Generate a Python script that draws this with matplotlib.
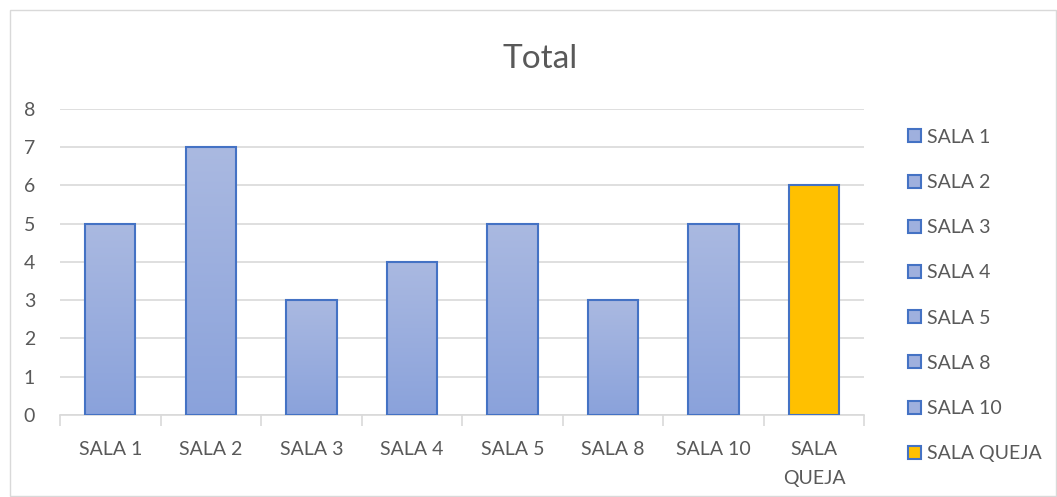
import matplotlib.pyplot as plt
import numpy as np
from matplotlib.patches import Rectangle
from matplotlib.colors import LinearSegmentedColormap

salas = ['SALA 1', 'SALA 2', 'SALA 3', 'SALA 4', 'SALA 5', 'SALA 8', 'SALA 10', 'SALA QUEJA']
tick_labels = ['SALA 1', 'SALA 2', 'SALA 3', 'SALA 4', 'SALA 5', 'SALA 8', 'SALA 10', 'SALA\nQUEJA']
totales = [5, 7, 3, 4, 5, 3, 5, 6]

plt.rcParams['font.family'] = ['Lato', 'DejaVu Sans']
gris = '#595959'
borde = '#4472c4'

fig = plt.figure(figsize=(10.57, 4.97), dpi=100)
ax = fig.add_axes([0.0568, 0.165, 0.761, 0.616])

# gradiente de las barras azules
grad = LinearSegmentedColormap.from_list('g', ['#8aa2db', '#aab9e1'])
img = np.linspace(0, 1, 256).reshape(-1, 1)

w = 0.5
handles = []
for i, (nombre, v) in enumerate(zip(salas, totales)):
    if nombre == 'SALA QUEJA':
        r = ax.bar(i, v, width=w, color='#ffc000', edgecolor=borde, linewidth=1.5, zorder=3)
        handles.append(Rectangle((0, 0), 1, 1, facecolor='#ffc000', edgecolor=borde, linewidth=1.5))
    else:
        r = ax.bar(i, v, width=w, color='none', edgecolor=borde, linewidth=1.5, zorder=4)
        im = ax.imshow(img, cmap=grad, aspect='auto', origin='lower',
                       extent=[i - w / 2, i + w / 2, 0, v], zorder=3)
        im.set_clip_path(r[0])
        handles.append(Rectangle((0, 0), 1, 1, facecolor='#9fb0de', edgecolor=borde, linewidth=1.5))

ax.set_xlim(-0.5, len(salas) - 0.5)
ax.set_ylim(0, 8)
ax.set_yticks(range(0, 9))
ax.grid(axis='y', color='#d9d9d9', linewidth=1.2, zorder=0)
ax.set_axisbelow(True)

ax.set_xticks(range(len(salas)))
ax.set_xticklabels(tick_labels, color=gris, fontsize=14, linespacing=1.85)
ax.set_xticks(np.arange(-0.5, len(salas)), minor=True)
ax.tick_params(axis='x', which='major', length=0, pad=19)
ax.tick_params(axis='x', which='minor', length=8, color='#d9d9d9', width=1.2)
ax.tick_params(axis='y', length=0, labelcolor=gris, labelsize=14, pad=18)

for s in ['top', 'right', 'left']:
    ax.spines[s].set_visible(False)
ax.spines['bottom'].set_color('#d9d9d9')
ax.spines['bottom'].set_linewidth(1.2)

fig.text(0.511, 0.881, 'Total', ha='center', va='center', fontsize=24, color=gris)

leg = ax.legend(handles, salas, loc='upper left', bbox_to_anchor=(1.033, 0.992),
                frameon=False, fontsize=14, labelcolor=gris, handlelength=0.65,
                handleheight=0.65, handletextpad=0.3, labelspacing=1.45)

fig.patches.append(Rectangle((0.0095, 0.002), 0.99, 0.977, transform=fig.transFigure,
                             fill=False, edgecolor='#d9d9d9', linewidth=1))

fig.savefig('out.png', dpi=100)
